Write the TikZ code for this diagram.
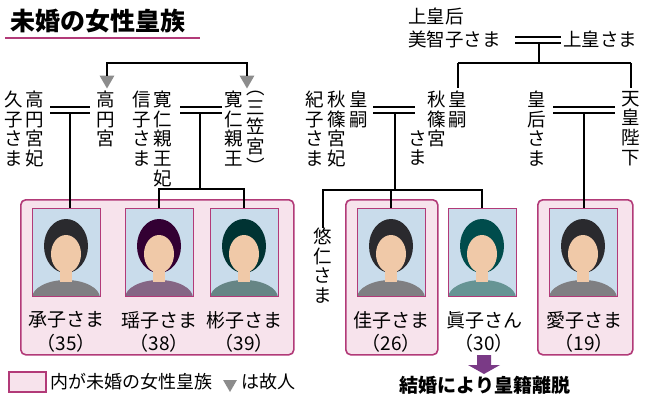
\documentclass[tikz,border=0pt]{standalone}
\usepackage{fontspec}
\setmainfont{Noto Sans CJK JP}
\usetikzlibrary{shapes.geometric}
\definecolor{mag}{HTML}{B23A78}
\definecolor{pinkfill}{HTML}{F7E3EC}
\definecolor{photobg}{HTML}{C9DCEB}
\definecolor{skin}{HTML}{F0C9A8}
\definecolor{hair}{HTML}{2A2A2E}
\definecolor{tri}{HTML}{8C8C8C}
\definecolor{arrowc}{HTML}{7A3A86}
\tikzset{
  vt/.style={anchor=north,inner sep=0pt,align=center,font=\fontsize{18.5}{19.6}\selectfont},
  lbl/.style={inner sep=0pt,font=\fontsize{19}{20}\selectfont},
  hl/.style={anchor=west,inner sep=0pt,font=\fontsize{18.5}{20}\selectfont},
  famline/.style={line width=1.3pt,black},
  pinkbox/.style={draw=mag,line width=1.6pt,fill=pinkfill,rounded corners=5pt},
  deadtri/.style={fill=tri,draw=none,regular polygon,regular polygon sides=3,shape border rotate=180,minimum size=17pt,inner sep=0pt},
  portrait/.pic={
    \begin{scope}
    \clip (-34,-44) rectangle (34,44);
    \fill[photobg] (-34,-44) rectangle (34,44);
    \fill[#1] (0,-6) ellipse [x radius=22, y radius=27];
    \fill[#1!60!white] (0,46) ellipse [x radius=34, y radius=18];
    \fill[skin] (0,2) ellipse [x radius=15, y radius=19];
    \fill[skin] (-6,18) rectangle (6,30);
    \end{scope}
    \draw[mag,line width=1pt] (-34,-44) rectangle (34,44);
  }
}
\begin{document}
\begin{tikzpicture}[x=1pt,y=-1pt]
\useasboundingbox (0,0) rectangle (650,401);
\fill[white] (0,0) rectangle (650,401);
% title
\node[anchor=west,inner sep=0pt,font=\fontsize{25}{26}\bfseries\selectfont] (title) at (10,21) {未婚の女性皇族};
\draw[mag,line width=2.5pt] (5,38) -- (200,38);

% pink boxes
\node[pinkbox,minimum width=273pt,minimum height=155pt,anchor=north west] (box1) at (20,199) {};
\node[pinkbox,minimum width=92pt,minimum height=155pt,anchor=north west] (box2) at (345,199) {};
\node[pinkbox,minimum width=95pt,minimum height=155pt,anchor=north west] (box3) at (537,199) {};

% photos
\pic at (66,252) {portrait=hair};
\pic at (159,252) {portrait={violet!40!black}};
\pic at (244,252) {portrait={teal!40!black}};
\pic at (391,252) {portrait=hair};
\pic at (482,252) {portrait={teal!60!black}};
\pic at (583,252) {portrait=hair};
\coordinate (p1) at (66,208);
\coordinate (p2) at (159,208);
\coordinate (p3) at (244,208);
\coordinate (p4) at (391,208);
\coordinate (p5) at (482,208);
\coordinate (p6) at (583,208);

% names
\node[lbl] (n1) at (66,320) {承子さま};
\node[lbl] (a1) at (66,343) {（35）};
\node[lbl] (n2) at (159,320) {瑶子さま};
\node[lbl] (a2) at (159,343) {（38）};
\node[lbl] (n3) at (244,320) {彬子さま};
\node[lbl] (a3) at (244,343) {（39）};
\node[lbl] (n4) at (391,320) {佳子さま};
\node[lbl] (a4) at (391,343) {（26）};
\node[lbl] (n5) at (484,320) {眞子さん};
\node[lbl] (a5) at (484,343) {（30）};
\node[lbl] (n6) at (584,320) {愛子さま};
\node[lbl] (a6) at (584,343) {（19）};

% left tree texts
\node[vt] (hisako) at (14,91) {久\\子\\さ\\ま};
\node[vt] (hisakoT) at (35,91) {高\\円\\宮\\妃};
\node[vt] (takamado) at (106,91) {高\\円\\宮};
\node[vt] (nobuko) at (142,91) {信\\子\\さ\\ま};
\node[vt] (nobukoT) at (163,91) {寛\\仁\\親\\王\\妃};
\node[vt] (tomohito) at (234,91) {寛\\仁\\親\\王};
\node[vt] (mikasa) at (256,91) {︵\\三\\笠\\宮\\︶};

% triangles
\node[deadtri] (t1) at (107,80) {};
\node[deadtri] (t2) at (247,80) {};
\coordinate (topL) at (107,63);
\coordinate (topR) at (247,63);
\draw[famline] (t1.north) -- (topL) -- (topR) -- (t2.north);

% marriages left
\draw[famline] (50,107) -- (90,107) (50,113) -- (90,113);
\coordinate (m1) at (70,113);
\draw[famline] (m1) -- (m1 |- p1);
\draw[famline] (180,107) -- (222,107) (180,113) -- (222,113);
\coordinate (m2) at (200,113);
\coordinate (j2) at (200,189);
\draw[famline] (m2) -- (j2);
\draw[famline] (p2) -- (p2 |- j2) -- (p3 |- j2) -- (p3);

% right top
\node[hl] (michiko1) at (408,16) {上皇后};
\node[hl] (michiko2) at (408,39) {美智子さま};
\node[hl] (joko) at (563,39) {上皇さま};
\draw[famline] (515,37) -- (561,37) (515,43) -- (561,43);
\coordinate (m3) at (539,43);
\coordinate (m3b) at (539,63);
\draw[famline] (m3) -- (m3b);
\coordinate (c1) at (458,63);
\coordinate (c2) at (631,63);
\draw[famline] (c1) -- (c2);
\draw[famline] (c1) -- (458,88);
\draw[famline] (c2) -- (631,88);

% Akishino
\node[vt] (kiko1) at (315,91) {紀\\子\\さ\\ま};
\node[vt] (kiko2) at (337,91) {秋\\篠\\宮\\妃};
\node[vt] (kiko3) at (359,91) {皇\\嗣};
\node[vt] (aki1) at (418,130.2) {さ\\ま};
\node[vt] (aki2) at (437,91) {秋\\篠\\宮};
\node[vt] (aki3) at (458,91) {皇\\嗣};
\draw[famline] (373,107) -- (415,107) (373,113) -- (415,113);
\coordinate (m4) at (395,113);
\coordinate (j4) at (395,190);
\draw[famline] (m4) -- (j4);
\node[vt] (hisahito) at (323,228) {悠\\仁\\さ\\ま};
\draw[famline] (hisahito.north) -- (323,190) -- (p5 |- j4) -- (p5);
\draw[famline] (p4 |- j4) -- (p4);

% Emperor
\node[vt] (kogo) at (537,91) {皇\\后\\さ\\ま};
\node[vt] (tenno) at (631,91) {天\\皇\\陛\\下};
\draw[famline] (553,107) -- (615,107) (553,113) -- (615,113);
\coordinate (m5) at (584,113);
\draw[famline] (m5) -- (m5 |- p6);

% legend
\node[draw=mag,line width=1.6pt,fill=pinkfill,minimum width=37pt,minimum height=20pt,inner sep=0pt,anchor=west] (legbox) at (8,382) {};
\node[anchor=west,inner sep=0pt,font=\fontsize{18}{20}\selectfont] (legtxt) at (50,382) {内が未婚の女性皇族};
\node[deadtri,minimum size=16pt] (legtri) at (230,384) {};
\node[anchor=west,inner sep=0pt,font=\fontsize{18}{20}\selectfont] (legtxt2) at (241,382) {は故人};

% arrow
\fill[arrowc] (477,355) -- (491,355) -- (491,365) -- (500,365) -- (484,374) -- (468,365) -- (477,365) -- cycle;
\node[inner sep=0pt,font=\fontsize{19}{20}\bfseries\selectfont] (kekkon) at (485,385) {結婚により皇籍離脱};
\end{tikzpicture}
\end{document}
